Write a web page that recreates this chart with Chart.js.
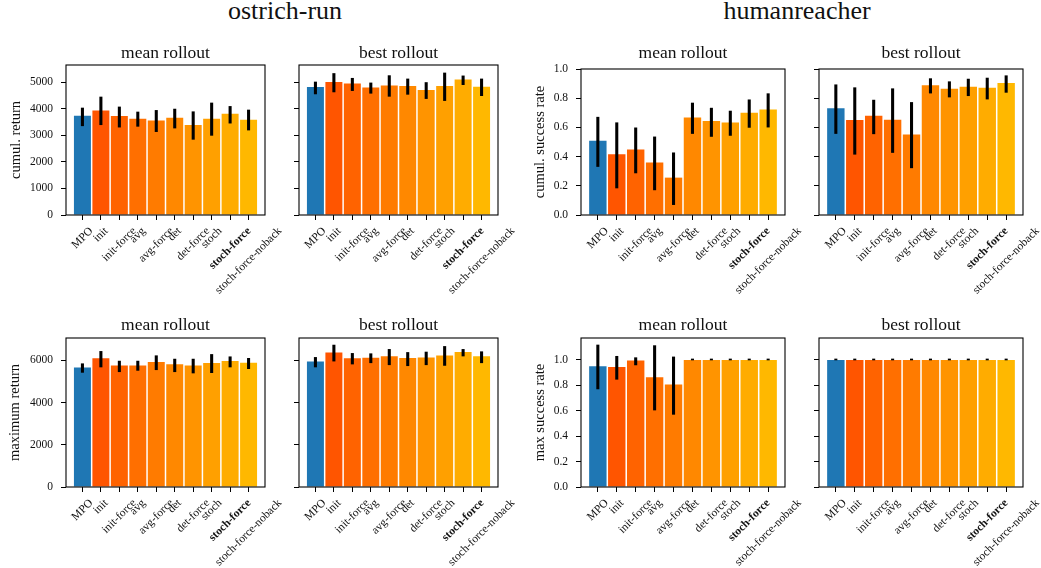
<!DOCTYPE html>
<html>
<head>
<meta charset="utf-8">
<script src="https://cdn.jsdelivr.net/npm/chart.js@4.4.1/dist/chart.umd.min.js"></script>
<style>
  html, body { margin: 0; padding: 0; background: #fff; }
  #fig { position: relative; width: 1041px; height: 568px; overflow: hidden; background: #fff; }
  #fig canvas { position: absolute; }
  .sup { position: absolute; font-family: "Liberation Serif", serif; font-size: 26px; line-height: 26px; color: #111; transform: translateX(-50%); white-space: nowrap; }
</style>
</head>
<body>
<div id="fig">
  <div class="sup" style="left:285px; top:-2px;">ostrich-run</div>
  <div class="sup" style="left:797px; top:-2px;">humanreacher</div>
</div>
<script>
  // methodes (kategori sumbu x)
  const methods = ['MPO', 'init', 'init-force', 'avg', 'avg-force', 'det', 'det-force', 'stoch', 'stoch-force', 'stoch-force-noback'];
  const barColors = ['#1f77b4', '#ff5500', '#ff6300', '#ff6f00', '#ff7b00', '#ff8800', '#ff9400', '#ffa000', '#ffac00', '#ffb800'];

  // ostrich-run, cumul. return
  const ostMeanCum = [3740, 3940, 3730, 3630, 3560, 3665, 3390, 3630, 3815, 3590];
  const ostMeanCumHi = [4030, 4445, 4070, 3880, 3940, 3990, 3890, 4220, 4090, 3955];
  const ostMeanCumLo = [3360, 3400, 3310, 3340, 3140, 3275, 2850, 3000, 3460, 3200];
  const ostBestCum = [4825, 5010, 4950, 4800, 4875, 4860, 4710, 4860, 5100, 4835];
  const ostBestCumHi = [5010, 5330, 5150, 4975, 5250, 5125, 4990, 5350, 5240, 5125];
  const ostBestCumLo = [4560, 4635, 4685, 4585, 4470, 4545, 4385, 4310, 4910, 4495];

  // humanreacher, cumul. success rate
  const hrMeanCum = [0.508, 0.416, 0.449, 0.359, 0.256, 0.668, 0.643, 0.634, 0.700, 0.723];
  const hrMeanCumHi = [0.670, 0.632, 0.597, 0.535, 0.426, 0.767, 0.732, 0.712, 0.789, 0.831];
  const hrMeanCumLo = [0.332, 0.185, 0.288, 0.172, 0.071, 0.558, 0.538, 0.545, 0.600, 0.602];
  const hrBestCum = [0.732, 0.650, 0.680, 0.652, 0.551, 0.888, 0.865, 0.879, 0.872, 0.904];
  const hrBestCumHi = [0.892, 0.872, 0.787, 0.865, 0.771, 0.934, 0.913, 0.931, 0.938, 0.954];
  const hrBestCumLo = [0.558, 0.416, 0.556, 0.428, 0.323, 0.835, 0.808, 0.817, 0.794, 0.840];

  // ostrich-run, maximum return
  const ostMeanMax = [5670, 6100, 5765, 5765, 5925, 5815, 5765, 5875, 5970, 5890];
  const ostMeanMaxHi = [5845, 6430, 5970, 5970, 6225, 6065, 6065, 6285, 6175, 6100];
  const ostMeanMaxLo = [5435, 5690, 5465, 5530, 5560, 5465, 5405, 5420, 5690, 5610];
  const ostBestMax = [5955, 6380, 6100, 6130, 6195, 6115, 6145, 6240, 6400, 6195];
  const ostBestMaxHi = [6145, 6730, 6335, 6320, 6525, 6380, 6400, 6665, 6525, 6415];
  const ostBestMaxLo = [5690, 5970, 5830, 5890, 5795, 5750, 5795, 5765, 6210, 5890];

  // humanreacher, max success rate
  const hrMeanMax = [0.950, 0.945, 0.995, 0.864, 0.806, 1.0, 1.0, 1.0, 1.0, 1.0];
  const hrMeanMaxHi = [1.118, 1.029, 1.018, 1.113, 1.024, 1.0, 1.0, 1.0, 1.0, 1.0];
  const hrMeanMaxLo = [0.772, 0.848, 0.961, 0.606, 0.572, 1.0, 1.0, 1.0, 1.0, 1.0];
  const hrBestMax = [1.0, 1.0, 1.0, 1.0, 1.0, 1.0, 1.0, 1.0, 1.0, 1.0];
  const hrBestMaxHi = [1.0, 1.0, 1.0, 1.0, 1.0, 1.0, 1.0, 1.0, 1.0, 1.0];
  const hrBestMaxLo = [1.0, 1.0, 1.0, 1.0, 1.0, 1.0, 1.0, 1.0, 1.0, 1.0];

  // batas & tick sumbu y
  const cumReturnMax = 5650;
  const cumReturnTicks = [0, 1000, 2000, 3000, 4000, 5000];
  const cumRateMax = 1.0;
  const maxReturnMax = 7065;
  const maxReturnTicks = [0, 2000, 4000, 6000];
  const maxRateMax = 1.173;
  const rateTicks = [0.0, 0.2, 0.4, 0.6, 0.8, 1.0];

  const FONT = '"Liberation Serif", "Times New Roman", serif';
  const PADL = 66, PADR = 40, PADT = 40, PADB = 85;

  // plugin: bingkai, label x miring, judul panel, label sumbu y
  const frameAndLabels = {
    id: 'frameAndLabels',
    afterDraw(chart, args, opts) {
      const { ctx, chartArea: a, scales } = chart;
      ctx.save();
      ctx.strokeStyle = '#000';
      ctx.lineWidth = 1.1;
      ctx.strokeRect(a.left, a.top, a.right - a.left, a.bottom - a.top);

      const fs = 11.5;
      ctx.fillStyle = '#111';
      methods.forEach((m, i) => {
        ctx.save();
        ctx.font = (m === 'stoch-force' ? 'bold ' : '') + fs + 'px ' + FONT;
        const w = ctx.measureText(m).width;
        const d = (w + fs * 1.05) / Math.SQRT2;
        const cx = scales.x.getPixelForValue(i);
        const cy = a.bottom + 10 + d / 2;
        ctx.translate(cx, cy);
        ctx.rotate(-Math.PI / 4);
        ctx.textAlign = 'center';
        ctx.textBaseline = 'middle';
        ctx.fillText(m, 0, 0);
        ctx.restore();
      });

      ctx.font = '17.5px ' + FONT;
      ctx.textAlign = 'center';
      ctx.textBaseline = 'alphabetic';
      ctx.fillText(opts.title, (a.left + a.right) / 2, a.top - opts.titleGap);

      if (opts.ylabel) {
        ctx.save();
        ctx.font = '14.5px ' + FONT;
        ctx.translate(opts.ylabelX, (a.top + a.bottom) / 2);
        ctx.rotate(-Math.PI / 2);
        ctx.textAlign = 'center';
        ctx.textBaseline = 'middle';
        ctx.fillText(opts.ylabel, 0, 0);
        ctx.restore();
      }
      ctx.restore();
    }
  };

  function makePanel(p) {
    const fig = document.getElementById('fig');
    const cv = document.createElement('canvas');
    const cw = p.w + PADL + PADR, ch = p.h + PADT + PADB;
    cv.width = cw; cv.height = ch;
    cv.style.width = cw + 'px'; cv.style.height = ch + 'px';
    cv.style.left = (p.l - PADL) + 'px';
    cv.style.top = (p.t - PADT) + 'px';
    fig.appendChild(cv);

    new Chart(cv.getContext('2d'), {
      type: 'bar',
      data: {
        datasets: [
          {
            data: p.vals.map((v, i) => ({ x: i, y: v })),
            backgroundColor: barColors,
            borderWidth: 0,
            barPercentage: 0.92,
            categoryPercentage: 1.0,
            grouped: false,
            order: 1
          },
          {
            data: p.lo.map((v, i) => ({ x: i, y: [v, p.hi[i]] })),
            backgroundColor: '#000',
            borderWidth: 0,
            barThickness: 2.4,
            minBarLength: 1,
            grouped: false,
            order: 0
          }
        ]
      },
      options: {
        responsive: false,
        animation: false,
        devicePixelRatio: 1,
        layout: { padding: { left: 0, top: PADT, right: PADR, bottom: 0 } },
        plugins: {
          legend: { display: false },
          tooltip: { enabled: false },
          frameAndLabels: { title: p.title, titleGap: p.titleGap, ylabel: p.ylabel, ylabelX: p.ylabelX }
        },
        scales: {
          x: {
            type: 'linear',
            min: -0.89, max: 9.89,
            offset: false,
            ticks: { display: false },
            grid: { offset: false, drawOnChartArea: false, drawTicks: true, tickLength: 5, color: '#000', lineWidth: 1 },
            border: { display: false },
            afterBuildTicks: (s) => { s.ticks = methods.map((m, i) => ({ value: i })); },
            afterFit: (s) => { s.height = PADB; }
          },
          y: {
            type: 'linear',
            min: 0, max: p.yMax,
            ticks: {
              display: p.showY,
              padding: 8,
              color: '#111',
              font: { family: FONT, size: 11.5 },
              callback: p.fmt
            },
            grid: { drawOnChartArea: false, drawTicks: true, tickLength: 5, color: '#000', lineWidth: 1 },
            border: { display: false },
            afterBuildTicks: (s) => { s.ticks = p.ticks.map((v) => ({ value: v })); },
            afterFit: (s) => { s.width = PADL; }
          }
        }
      },
      plugins: [frameAndLabels]
    });
  }

  const intFmt = (v) => String(v);
  const decFmt = (v) => v.toFixed(1);

  document.addEventListener('DOMContentLoaded', () => {
    makePanel({ l: 66, t: 65, w: 199, h: 150, title: 'mean rollout', titleGap: 7, ylabel: 'cumul. return', ylabelX: 16,
      vals: ostMeanCum, hi: ostMeanCumHi, lo: ostMeanCumLo, yMax: cumReturnMax, ticks: cumReturnTicks, showY: true, fmt: intFmt });
    makePanel({ l: 299, t: 65, w: 199, h: 150, title: 'best rollout', titleGap: 7,
      vals: ostBestCum, hi: ostBestCumHi, lo: ostBestCumLo, yMax: cumReturnMax, ticks: cumReturnTicks, showY: false, fmt: intFmt });
    makePanel({ l: 581, t: 69, w: 204, h: 146, title: 'mean rollout', titleGap: 11, ylabel: 'cumul. success rate', ylabelX: 25,
      vals: hrMeanCum, hi: hrMeanCumHi, lo: hrMeanCumLo, yMax: cumRateMax, ticks: rateTicks, showY: true, fmt: decFmt });
    makePanel({ l: 819, t: 69, w: 204, h: 146, title: 'best rollout', titleGap: 11,
      vals: hrBestCum, hi: hrBestCumHi, lo: hrBestCumLo, yMax: cumRateMax, ticks: rateTicks, showY: false, fmt: decFmt });

    makePanel({ l: 66, t: 338, w: 199, h: 149, title: 'mean rollout', titleGap: 8, ylabel: 'maximum return', ylabelX: 15,
      vals: ostMeanMax, hi: ostMeanMaxHi, lo: ostMeanMaxLo, yMax: maxReturnMax, ticks: maxReturnTicks, showY: true, fmt: intFmt });
    makePanel({ l: 299, t: 338, w: 199, h: 149, title: 'best rollout', titleGap: 8,
      vals: ostBestMax, hi: ostBestMaxHi, lo: ostBestMaxLo, yMax: maxReturnMax, ticks: maxReturnTicks, showY: false, fmt: intFmt });
    makePanel({ l: 581, t: 338, w: 204, h: 149, title: 'mean rollout', titleGap: 8, ylabel: 'max success rate', ylabelX: 25,
      vals: hrMeanMax, hi: hrMeanMaxHi, lo: hrMeanMaxLo, yMax: maxRateMax, ticks: rateTicks, showY: true, fmt: decFmt });
    makePanel({ l: 819, t: 338, w: 204, h: 149, title: 'best rollout', titleGap: 8,
      vals: hrBestMax, hi: hrBestMaxHi, lo: hrBestMaxLo, yMax: maxRateMax, ticks: rateTicks, showY: false, fmt: decFmt });
  });
</script>
</body>
</html>
